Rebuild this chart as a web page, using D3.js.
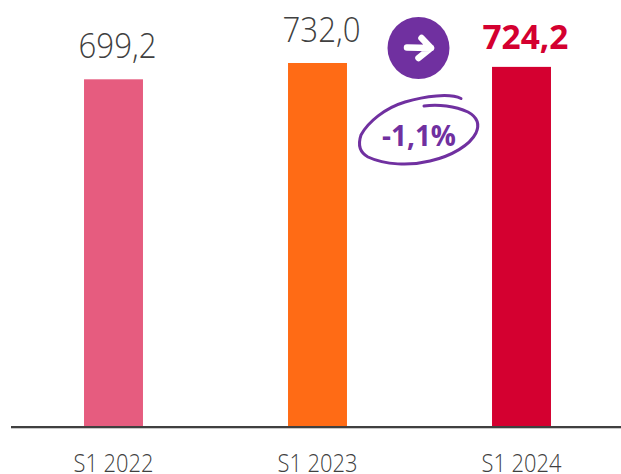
<!DOCTYPE html>
<html><head><meta charset="utf-8">
<script src="https://cdnjs.cloudflare.com/ajax/libs/d3/7.8.5/d3.min.js"></script>
<style>html,body{margin:0;padding:0;background:#fff}svg{display:block}text{font-family:"Open Sans",sans-serif}</style>
</head><body><svg id="c" width="621" height="474"></svg>
<script>
const categories = ["S1 2022","S1 2023","S1 2024"];
const values = [699.2,732.0,724.2];
const valueLabels = ["699,2","732,0","724,2"];
const colors = ["#e65c7f","#ff6b15","#d40030"];
const changeLabel = "-1,1%";
const purple = "#7030a0";

const svg = d3.select("#c");
const x = d3.scaleBand().domain(categories).range([11.5,623.5]).paddingInner(0.711).paddingOuter(0.3555);
const y = d3.scaleLinear().domain([0,732]).range([427,63]);

svg.selectAll("rect.bar").data(values).join("rect").attr("class","bar")
  .attr("x",(d,i)=>x(categories[i])).attr("width",x.bandwidth())
  .attr("y",d=>y(d)).attr("height",d=>y(0)-y(d)).attr("fill",(d,i)=>colors[i]);

svg.append("line").attr("x1",11).attr("x2",621).attr("y1",427).attr("y2",427)
  .attr("stroke","#404040").attr("stroke-width",2);
svg.append("line").attr("x1",11).attr("x2",621).attr("y1",428.5).attr("y2",428.5)
  .attr("stroke","#c8c8c8").attr("stroke-width",1);

svg.selectAll("text.cat").data(categories).join("text").attr("class","cat")
  .attr("x",d=>x(d)+x.bandwidth()/2).attr("y",472).attr("text-anchor","middle")
  .attr("font-size",26).attr("font-weight",300).attr("fill","#404040")
  .attr("textLength",80).attr("lengthAdjust","spacingAndGlyphs").text(d=>d);

svg.selectAll("text.val").data(values).join("text").attr("class","val")
  .attr("x",(d,i)=>x(categories[i])+x.bandwidth()/2+4).attr("y",(d,i)=>i==2?49:y(d)-21)
  .attr("text-anchor","middle")
  .attr("font-size",(d,i)=>i==2?34:35).attr("font-weight",(d,i)=>i==2?700:300)
  .attr("fill",(d,i)=>i==2?colors[2]:"#404040")
  .attr("textLength",(d,i)=>i==2?86:78).attr("lengthAdjust","spacingAndGlyphs").text((d,i)=>valueLabels[i]);

// arrow badge
svg.append("circle").attr("cx",418.5).attr("cy",48).attr("r",31).attr("fill",purple);
svg.append("path").attr("d","M407 47.5 L431 48 M421.5 38 L431 48 L418.5 58")
  .attr("fill","none").attr("stroke","#fff").attr("stroke-width",6.5).attr("stroke-linecap","round").attr("stroke-linejoin","round");

// hand-drawn ring
svg.append("path").attr("d","M461 98.5 C450 93 425 96 405 102 C385 108 368 122 361 135 C358 144 359 152 368 157 C385 165 410 166 430 161 C452 156 470 145 476 133 C480 124 477 117 468 112 C455 106 438 104 424 106")
  .attr("fill","none").attr("stroke",purple).attr("stroke-width",3).attr("stroke-linecap","round");

svg.append("text").attr("x",419).attr("y",146).attr("text-anchor","middle")
  .attr("font-size",28).attr("font-weight",700).attr("fill",purple)
  .attr("textLength",74).attr("lengthAdjust","spacingAndGlyphs").text(changeLabel);
</script></body></html>
